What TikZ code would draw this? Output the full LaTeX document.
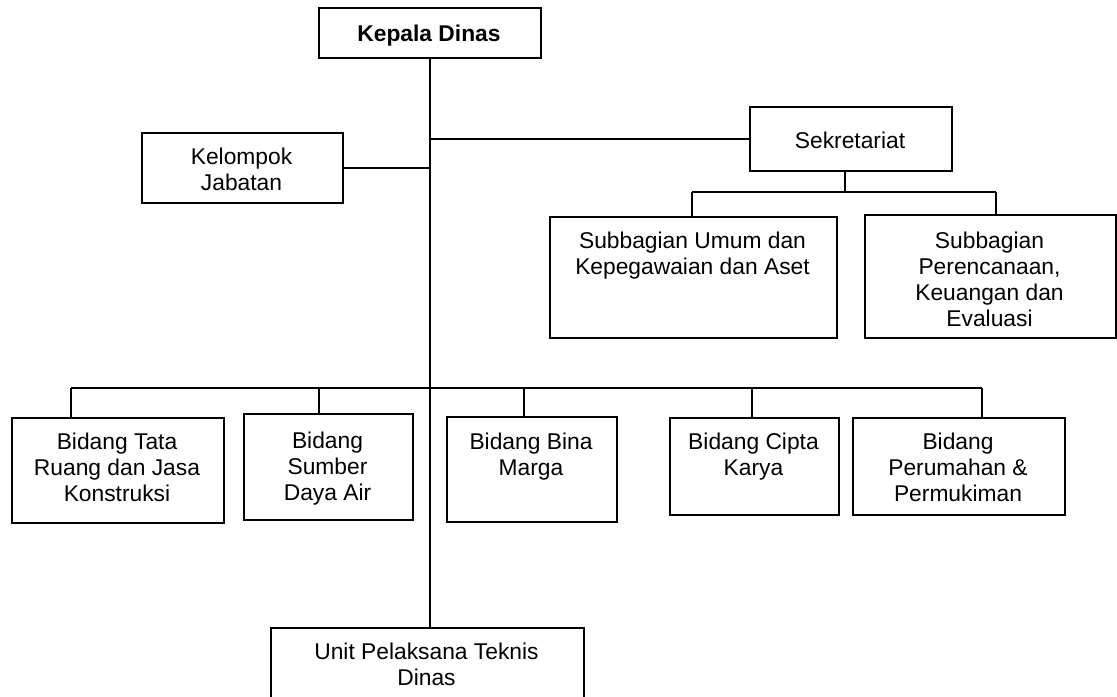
\documentclass[tikz,border=0pt]{standalone}
\usepackage{fontspec}
\setmainfont{Liberation Sans}
\begin{document}
\begin{tikzpicture}[x=0.75pt,y=-0.75pt,
  bx/.style 2 args={draw, line width=1.3pt, inner sep=0pt, anchor=north west,
    minimum width=#1*0.75pt, minimum height=#2*0.75pt},
  txt/.style={anchor=north, inner sep=0pt, align=center,
    font=\fontsize{17.1}{19.5}\selectfont},
  txtb/.style={txt, font=\fontsize{17.1}{19.5}\selectfont\bfseries},
  conn/.style={line width=1.3pt}]
\useasboundingbox (0,0) rectangle (1117,696);
\clip (0,0) rectangle (1117,696);

% boxes
\node[bx={222}{50}] (kd) at (318,7) {};
\node[bx={201}{70}] (kel) at (141,132) {};
\node[bx={202}{64}] (sek) at (749,106) {};
\node[bx={287}{121}] (s1) at (549,216) {};
\node[bx={251}{123}] (s2) at (864,214) {};
\node[bx={212}{105}] (b1) at (11,417) {};
\node[bx={169}{106}] (b2) at (243,413) {};
\node[bx={170}{105}] (b3) at (446,416) {};
\node[bx={169}{97}] (b4) at (669,417) {};
\node[bx={212}{97}] (b5) at (852,417) {};
\node[bx={313}{90}] (unit) at (270,627) {};

% texts
\node[txtb] (kdt) at (429,25) {Kepala Dinas};
\node[txt] (kelt) at (241.5,148) {Kelompok\\Jabatan};
\node[txt] (sekt) at (850,132) {Sekretariat};
\node[txt] (s1t) at (692.5,232) {Subbagian Umum dan\\Kepegawaian dan Aset};
\node[txt] (s2t) at (989.5,232) {Subbagian\\Perencanaan,\\Keuangan dan\\Evaluasi};
\node[txt] (b1t) at (117,433) {Bidang Tata\\Ruang dan Jasa\\Konstruksi};
\node[txt] (b2t) at (327.5,432) {Bidang\\Sumber\\Daya Air};
\node[txt] (b3t) at (531,433) {Bidang Bina\\Marga};
\node[txt] (b4t) at (753.5,433) {Bidang Cipta\\Karya};
\node[txt] (b5t) at (958,433) {Bidang\\Perumahan \&\\Permukiman};
\node[txt] (unitt) at (426.5,643) {Unit Pelaksana Teknis\\Dinas};

% connector points
\coordinate (e0) at (845,192);
\coordinate (e1) at (692,192);
\coordinate (e2) at (996,192);
\coordinate (d1) at (71,388);
\coordinate (d2) at (319,388);
\coordinate (d3) at (524,388);
\coordinate (d4) at (752,388);
\coordinate (d5) at (982,388);

% connectors
\draw[conn] (kd.south) -- (kd.south |- unit.north);
\draw[conn] (kd.south |- sek.west) -- (sek.west);
\draw[conn] (kel.east) -- (kel.east -| kd.south);
\draw[conn] (e0 |- sek.south) -- (e0);
\draw[conn] (e1) -- (e2);
\draw[conn] (e1) -- (e1 |- s1.north);
\draw[conn] (e2) -- (e2 |- s2.north);
\draw[conn] (d1) -- (d5);
\foreach \i in {1,...,5} \draw[conn] (d\i) -- (d\i |- b\i.north);
\end{tikzpicture}
\end{document}
